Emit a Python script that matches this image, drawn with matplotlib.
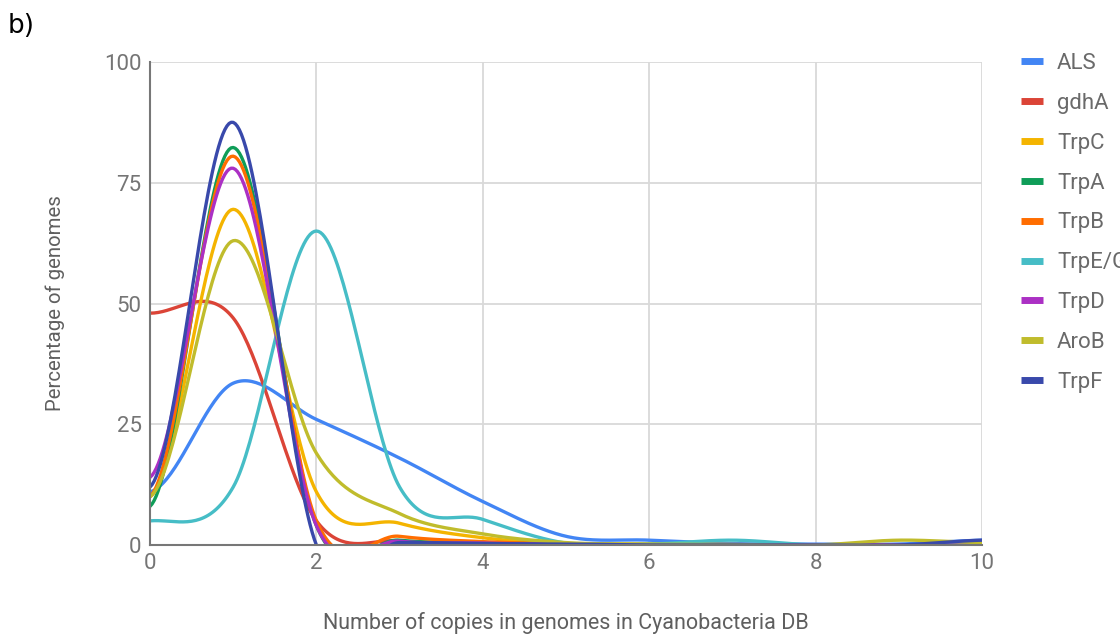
import numpy as np
import matplotlib
matplotlib.use("Agg")
import matplotlib.pyplot as plt

# data: percentage of genomes per copy number
copies = [0, 1, 2, 3, 4, 5, 6, 7, 8, 9, 10]
als = [11, 33.5, 26, 18, 9, 1.8, 1.0, 0.3, 0.2, 0.2, 1.0]
gdha = [48, 47, 5, 0.8, 0.5, 0.2, 0, 0, 0, 0, 0]
trpc = [10, 69.5, 11, 4.5, 1.5, 0.3, 0.2, 0.1, 0, 0, 0.3]
trpa = [8, 82.3, 4, 1, 0.5, 0.2, 0, 0, 0, 0, 0]
trpb = [10, 80.5, 5, 1.8, 0.7, 0.2, 0, 0, 0, 0, 0]
trpeg = [5, 12, 65, 12, 5.3, 0.4, 0.2, 1.0, 0, 0, 0.3]
trpd = [14, 78, 4, 0.8, 0.4, 0.1, 0, 0, 0, 0, 0]
arob = [10, 63, 19, 6.5, 2.3, 0.5, 0.2, 0.1, 0, 1.0, 0.5]
trpf = [12, 87.5, 0, 0.5, 0.3, 0.2, 0, 0, 0, 0, 1.0]

series = [
    ("ALS", als, "#4285F4"),
    ("gdhA", gdha, "#DB4437"),
    ("TrpC", trpc, "#F4B400"),
    ("TrpA", trpa, "#0F9D58"),
    ("TrpB", trpb, "#FF6D00"),
    ("TrpE/G", trpeg, "#46BDC6"),
    ("TrpD", trpd, "#AB30C4"),
    ("AroB", arob, "#C0BC2C"),
    ("TrpF", trpf, "#3949AB"),
]


def smooth(x, y, n=40):
    # Catmull-Rom style curve through the points, like the "function" curve
    x = np.asarray(x, float)
    y = np.asarray(y, float)
    m = np.zeros_like(y)
    m[1:-1] = (y[2:] - y[:-2]) / 2
    m[0] = (y[1] - y[0]) * 0.2
    m[-1] = (y[-1] - y[-2]) * 0.5
    xs, ys = [], []
    t = np.linspace(0, 1, n, endpoint=False)
    h00 = 2 * t**3 - 3 * t**2 + 1
    h10 = t**3 - 2 * t**2 + t
    h01 = -2 * t**3 + 3 * t**2
    h11 = t**3 - t**2
    for i in range(len(x) - 1):
        xs.append(x[i] + t * (x[i + 1] - x[i]))
        ys.append(h00 * y[i] + h10 * m[i] + h01 * y[i + 1] + h11 * m[i + 1])
    xs.append([x[-1]])
    ys.append([y[-1]])
    return np.concatenate(xs), np.concatenate(ys)


plt.rcParams["font.family"] = ["Roboto", "DejaVu Sans"]

fig = plt.figure(figsize=(11.2, 6.39), dpi=100)
ax = fig.add_axes([150 / 1120, 1 - 545 / 639, 832 / 1120, 483 / 639])

for name, vals, color in series:
    xs, ys = smooth(copies, vals)
    ax.plot(xs, ys, color=color, lw=2.4, label=name, solid_capstyle="round")

ax.set_xlim(0, 10)
ax.set_ylim(0, 100)
ax.set_xticks([0, 2, 4, 6, 8, 10])
ax.set_yticks([0, 25, 50, 75, 100])
ax.grid(True, color="#d9d9d9", lw=1.3)
ax.set_axisbelow(True)
for s in ["top", "right"]:
    ax.spines[s].set_visible(False)
for s in ["left", "bottom"]:
    ax.spines[s].set_color("#777777")
    ax.spines[s].set_linewidth(1.5)
    ax.spines[s].set_zorder(5)
ax.tick_params(length=0, labelsize=16, labelcolor="#757575", pad=6)

ax.set_xlabel("Number of copies in genomes in Cyanobacteria DB", fontsize=15.5,
              color="#5f5f5f", labelpad=27)
ax.set_ylabel("Percentage of genomes", fontsize=14.7, color="#5f5f5f", labelpad=28)

fig.text(8 / 1120, 1 - 26 / 639, "b)", fontsize=19, color="black",
         family="DejaVu Sans", va="center")

handles, labels = ax.get_legend_handles_labels()
leg = fig.legend(handles, labels, loc="upper left",
                 bbox_to_anchor=(1012 / 1120, 1 - 44 / 639), frameon=False,
                 fontsize=16, labelspacing=0.85, handlelength=1.0,
                 handletextpad=0.63, borderaxespad=0)
for line in leg.get_lines():
    line.set_linewidth(5)
    line.set_solid_capstyle("butt")
for text in leg.get_texts():
    text.set_color("#6a6a6a")

fig.savefig("out.png", dpi=100)
